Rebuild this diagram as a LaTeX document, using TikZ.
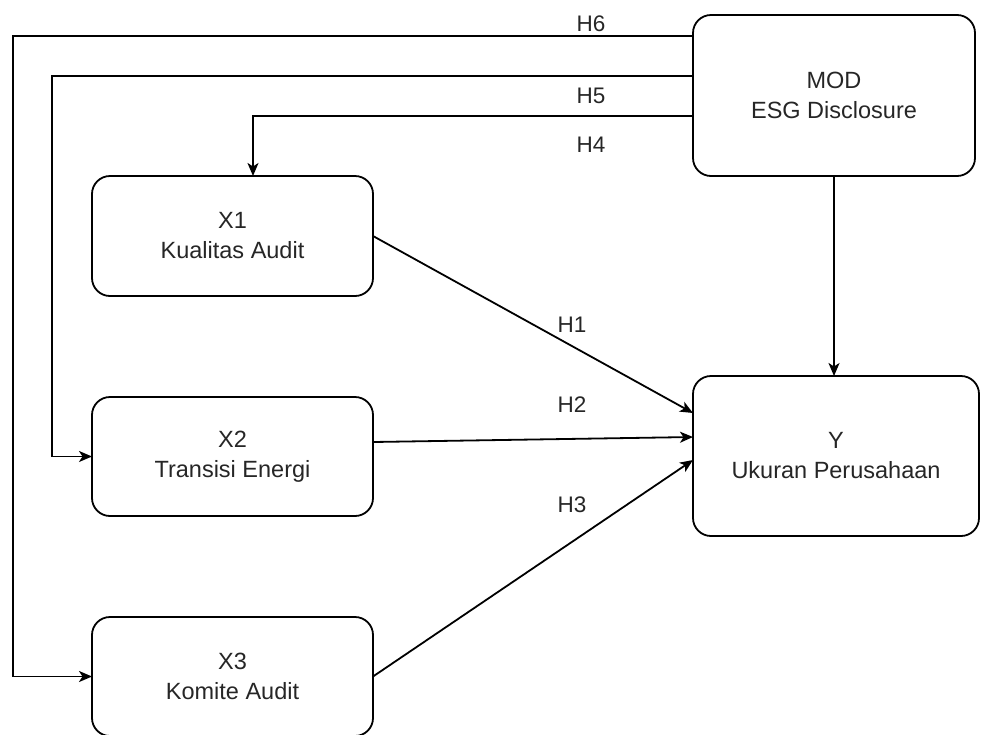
\documentclass[tikz,border=0pt]{standalone}
\usepackage{fontspec}
\setmainfont{Liberation Sans}
\usetikzlibrary{arrows.meta}
\begin{document}
\begin{tikzpicture}[x=1pt,y=-1pt,
  box/.style={draw=black, line width=1.8pt, rounded corners=18pt, outer sep=0pt,
    align=center, text=black!85, font=\fontsize{23.5}{30}\selectfont},
  arr/.style={draw=black, line width=1.8pt, -{Stealth[length=13pt,width=11pt,inset=3.5pt]}},
  lbl/.style={text=black!85, font=\fontsize{22.5}{26}\selectfont, inner sep=0pt}
]
\useasboundingbox (0,0) rectangle (981,734);
\node[box, minimum width=282pt, minimum height=161pt] (MOD) at (834,95.5) {MOD\\ESG Disclosure};
\node[box, minimum width=281pt, minimum height=120pt] (X1) at (232.5,236) {X1\\Kualitas Audit};
\node[box, minimum width=281pt, minimum height=119pt] (X2) at (232.5,456.5) {X2\\Transisi Energi};
\node[box, minimum width=281pt, minimum height=119pt] (X3) at (232.5,676.5) {X3\\Komite Audit};
\node[box, minimum width=286pt, minimum height=160pt] (Y) at (836,456) {Y\\Ukuran Perusahaan};

\coordinate (h6) at (13,36);
\coordinate (h5) at (52,76);
\coordinate (h4) at (253,116);

\draw[arr] (MOD.west|-h6) -- (h6) |- (X3.west);
\draw[arr] (MOD.west|-h5) -- (h5) |- (X2.west);
\draw[arr] (MOD.west|-h4) -| (X1.north-|h4);
\draw[arr] (MOD.south) -- (MOD.south|-Y.north);
\draw[arr] (X1.east) -- ([yshift=43pt]Y.west);
\draw[arr] ([yshift=14.5pt]X2.east) -- ([yshift=19pt]Y.west);
\draw[arr] (X3.east) -- ([yshift=-4pt]Y.west);

\node[lbl] (L6) at (591,24) {H6};
\node[lbl] (L5) at (591,96) {H5};
\node[lbl] (L4) at (591,145) {H4};
\node[lbl] (L1) at (572,325) {H1};
\node[lbl] (L2) at (572,405) {H2};
\node[lbl] (L3) at (572,505) {H3};
\end{tikzpicture}
\end{document}
